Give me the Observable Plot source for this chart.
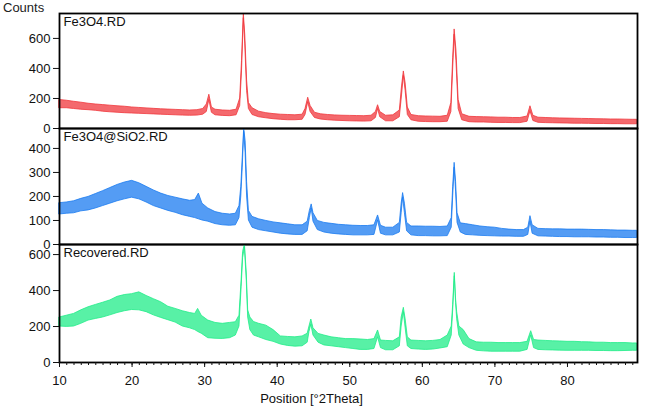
<!DOCTYPE html>
<html>
<head>
<meta charset="utf-8">
<script src="https://cdn.jsdelivr.net/npm/d3@7"></script>
<script src="https://cdn.jsdelivr.net/npm/@observablehq/plot@0.6"></script>
<style>
  body { margin: 0; background: #fff; }
  #chart { position: relative; width: 645px; height: 410px; overflow: hidden; font-family: "Liberation Sans", Arial, sans-serif; }
  #chart .panel { position: absolute; left: 0; }
  #chart svg { overflow: visible; }
  #chart .counts { position: absolute; left: 3px; top: 0px; font-size: 13px; color: #222; }
</style>
</head>
<body>
<div id="chart"><div class="counts">Counts</div></div>
<script>
// XRD patterns: 2θ positions with the lower / upper edge of the noisy trace (counts)

const fe3o4Theta = [10,11,12,13,14,15,16,17,18,19,20,21,22,23,24,25,26,27,28,29,29.8,30.3,30.65,31.0,31.5,32.5,33.5,34.4,34.9,35.15,35.4,35.6,35.85,36.1,36.6,37.5,38.5,39.5,40.5,41.5,42.5,43.5,43.9,44.27,44.6,45.2,46,47,48,49,50,51,52,53,53.6,53.9,54.2,55,56,56.9,57.2,57.45,57.7,58.0,58.5,59.5,60.5,61.5,62.5,63.5,64.0,64.25,64.45,64.7,65.0,65.5,66.5,67.5,68.5,69.5,70.5,71.5,72.5,73.5,74.5,74.9,75.3,76,77,78,79,80,81,82,83,84,85,86,87,88,89,89.6];
const fe3o4Low  = [135,135,130,125,122,118,112,108,105,102,100,98,96,94,92,90,88,86,85,86,92,110,190,105,88,84,82,88,150,380,735,560,250,130,90,75,68,62,58,55,55,58,90,175,110,70,60,55,52,50,48,47,46,48,70,130,75,48,48,75,220,350,250,90,55,45,43,42,42,45,110,400,625,450,130,55,42,40,40,38,37,37,36,36,45,115,50,38,36,35,34,33,32,32,31,30,30,29,29,28,28,28];
const fe3o4High = [190,185,178,172,165,160,156,152,148,145,140,137,134,131,128,126,124,122,120,122,130,160,225,140,125,120,118,125,200,450,765,620,320,170,135,112,102,96,92,90,88,92,130,205,150,105,95,90,87,85,84,83,82,85,110,155,110,85,88,120,280,380,300,140,90,82,80,79,78,85,170,470,660,520,190,95,78,76,75,74,72,72,70,70,80,148,85,72,70,68,67,66,65,64,63,62,61,60,60,59,58,58];

const silicaTheta = [10,11,12,13,14,15,16,17,18,19,20,21,22,23,24,25,26,27,28,28.7,29.2,29.7,30.5,31.5,32.5,33.5,34.3,34.8,35.05,35.25,35.45,35.65,35.85,36.1,36.6,37.5,38.5,39.5,40.5,41.5,42.5,43.5,44.2,44.5,44.75,45.0,45.6,46.5,47.5,48.5,49.5,50.5,51.5,52.5,53.4,53.9,54.3,55,56,56.9,57.15,57.35,57.6,57.9,58.5,59.5,60.5,61.5,62.5,63.5,64.05,64.25,64.45,64.65,64.85,65.3,66,67,68,69,70,71,72,73,74,74.6,74.9,75.2,76,77,78,79,80,81,82,83,84,85,86,87,88,89,89.6];
const silicaLow  = [125,128,130,138,142,150,160,170,180,188,195,188,175,160,150,140,132,122,115,110,105,100,95,85,80,78,80,110,200,320,470,380,200,100,70,60,55,50,45,42,40,40,55,110,150,95,60,50,45,42,40,38,38,38,40,100,45,38,38,50,130,195,130,55,38,35,35,34,34,35,70,200,320,220,90,50,40,38,36,35,34,33,33,32,32,40,95,45,34,33,32,31,31,30,30,30,29,29,28,28,27,27,27];
const silicaHigh = [172,175,180,190,198,210,222,235,248,258,265,255,240,225,212,202,195,188,182,185,212,170,150,135,128,125,128,160,240,360,483,430,260,140,115,105,98,92,88,84,80,80,95,140,167,130,98,90,86,82,80,78,77,77,80,121,78,70,70,90,170,214,170,90,75,75,74,74,73,75,110,240,340,260,130,88,85,80,75,72,70,65,62,60,60,70,118,80,65,64,63,63,62,62,62,61,60,60,59,58,58,57,57];

const recoveredTheta = [10,11,12,13,14,15,16,17,18,19,20,21,22,23,24,25,26,27,28,28.7,29.1,29.6,30.5,31.5,32.5,33.5,34.3,34.8,35.1,35.3,35.55,35.8,36.0,36.3,36.8,37.5,38.5,39.5,40.5,41.5,42.5,43.5,44.2,44.45,44.7,45.0,45.7,46.5,47.5,48.5,49.5,50.5,51.5,52.5,53.4,53.9,54.3,55,56,56.9,57.15,57.45,57.7,58.0,58.5,59.5,60.5,61.5,62.5,63.5,64.05,64.25,64.47,64.65,64.8,65.1,65.7,66.5,67.5,68.5,69.5,70.5,71.5,72.5,73.5,74.5,75.0,75.4,76,77,78,79,80,81,82,83,84,85,86,87,88,89,89.6];
const recoveredLow  = [200,198,200,215,233,242,250,262,275,285,292,290,280,262,248,235,222,200,190,180,170,160,135,132,131,135,150,200,420,580,640,460,250,180,150,140,125,115,100,92,88,90,110,170,210,150,110,95,90,85,80,75,70,70,75,140,80,68,68,90,200,280,190,90,75,72,70,72,78,85,150,290,480,330,240,150,100,80,65,62,60,60,60,60,60,70,150,80,70,68,67,66,65,65,65,65,64,64,63,63,64,65,65];
const recoveredHigh = [250,260,270,290,307,320,332,345,365,375,380,390,370,352,335,310,298,285,275,270,298,260,233,220,215,220,224,260,460,615,656,500,290,250,225,215,205,180,145,142,140,145,160,200,239,190,159,150,140,135,130,130,128,125,130,178,122,120,118,140,250,304,240,140,122,120,118,120,125,150,200,320,498,350,280,200,180,130,112,110,110,108,108,108,108,115,174,125,122,120,118,117,115,115,113,112,110,110,108,108,108,106,106];

// Axis ticks
const xDomain = [10, 89.65];
const xMajorTicks = [10, 20, 30, 40, 50, 60, 70, 80];
const xMinorTicks = d3.range(10, 90, 1);
const fe3o4Ticks = [0, 200, 400, 600];
const silicaTicks = [0, 100, 200, 300, 400];
const recoveredTicks = [0, 200, 400, 600];

const font = {fontFamily: "'Liberation Sans', Arial, sans-serif", fontSize: "13px", color: "#111", background: "transparent"};

function panel({theta, low, high, color, name, yMax, yTicks, top, marginTop, innerHeight, marginBottom, bottomAxis}) {
  const rows = theta.map((t, i) => ({theta: t, low: low[i], high: high[i]}));
  const marks = [
    Plot.areaY(rows, {x: "theta", y1: "low", y2: "high", fill: color, fillOpacity: 0.75, stroke: color, strokeWidth: 0.8}),
    Plot.axisY({ticks: yTicks, tickSize: 6, tickPadding: 3, label: null}),
    Plot.text([name], {frameAnchor: "top-left", lineAnchor: "top", dx: 4, dy: 3.3, fill: "#111"}),
    Plot.frame({stroke: "#000", strokeWidth: 1.8})
  ];
  if (bottomAxis) {
    marks.push(
      Plot.axisX({ticks: xMinorTicks, tickSize: 3, tickFormat: () => "", label: null}),
      Plot.axisX({ticks: xMajorTicks, tickSize: 5, tickPadding: 8, label: null}),
      Plot.text(["Position [°2Theta]"], {frameAnchor: "bottom", lineAnchor: "top", textAnchor: "middle", dx: -37, dy: 31, fill: "#111"})
    );
  }
  const svg = Plot.plot({
    width: 645,
    height: marginTop + innerHeight + marginBottom,
    marginLeft: 59,
    marginRight: 8,
    marginTop,
    marginBottom,
    style: font,
    x: {domain: xDomain, axis: bottomAxis ? undefined : null},
    y: {domain: [0, yMax]},
    marks
  });
  const holder = document.createElement("div");
  holder.className = "panel";
  holder.style.top = top + "px";
  holder.appendChild(svg);
  document.getElementById("chart").appendChild(holder);
}

panel({theta: fe3o4Theta, low: fe3o4Low, high: fe3o4High, color: "#f0373c", name: "Fe3O4.RD",
       yMax: 766, yTicks: fe3o4Ticks, top: 0, marginTop: 13, innerHeight: 115, marginBottom: 10});
panel({theta: silicaTheta, low: silicaLow, high: silicaHigh, color: "#1b7bf0", name: "Fe3O4@SiO2.RD",
       yMax: 483, yTicks: silicaTicks, top: 118, marginTop: 10, innerHeight: 116, marginBottom: 10});
panel({theta: recoveredTheta, low: recoveredLow, high: recoveredHigh, color: "#20ec88", name: "Recovered.RD",
       yMax: 656, yTicks: recoveredTicks, top: 234, marginTop: 10, innerHeight: 118, marginBottom: 48, bottomAxis: true});
</script>
</body>
</html>
